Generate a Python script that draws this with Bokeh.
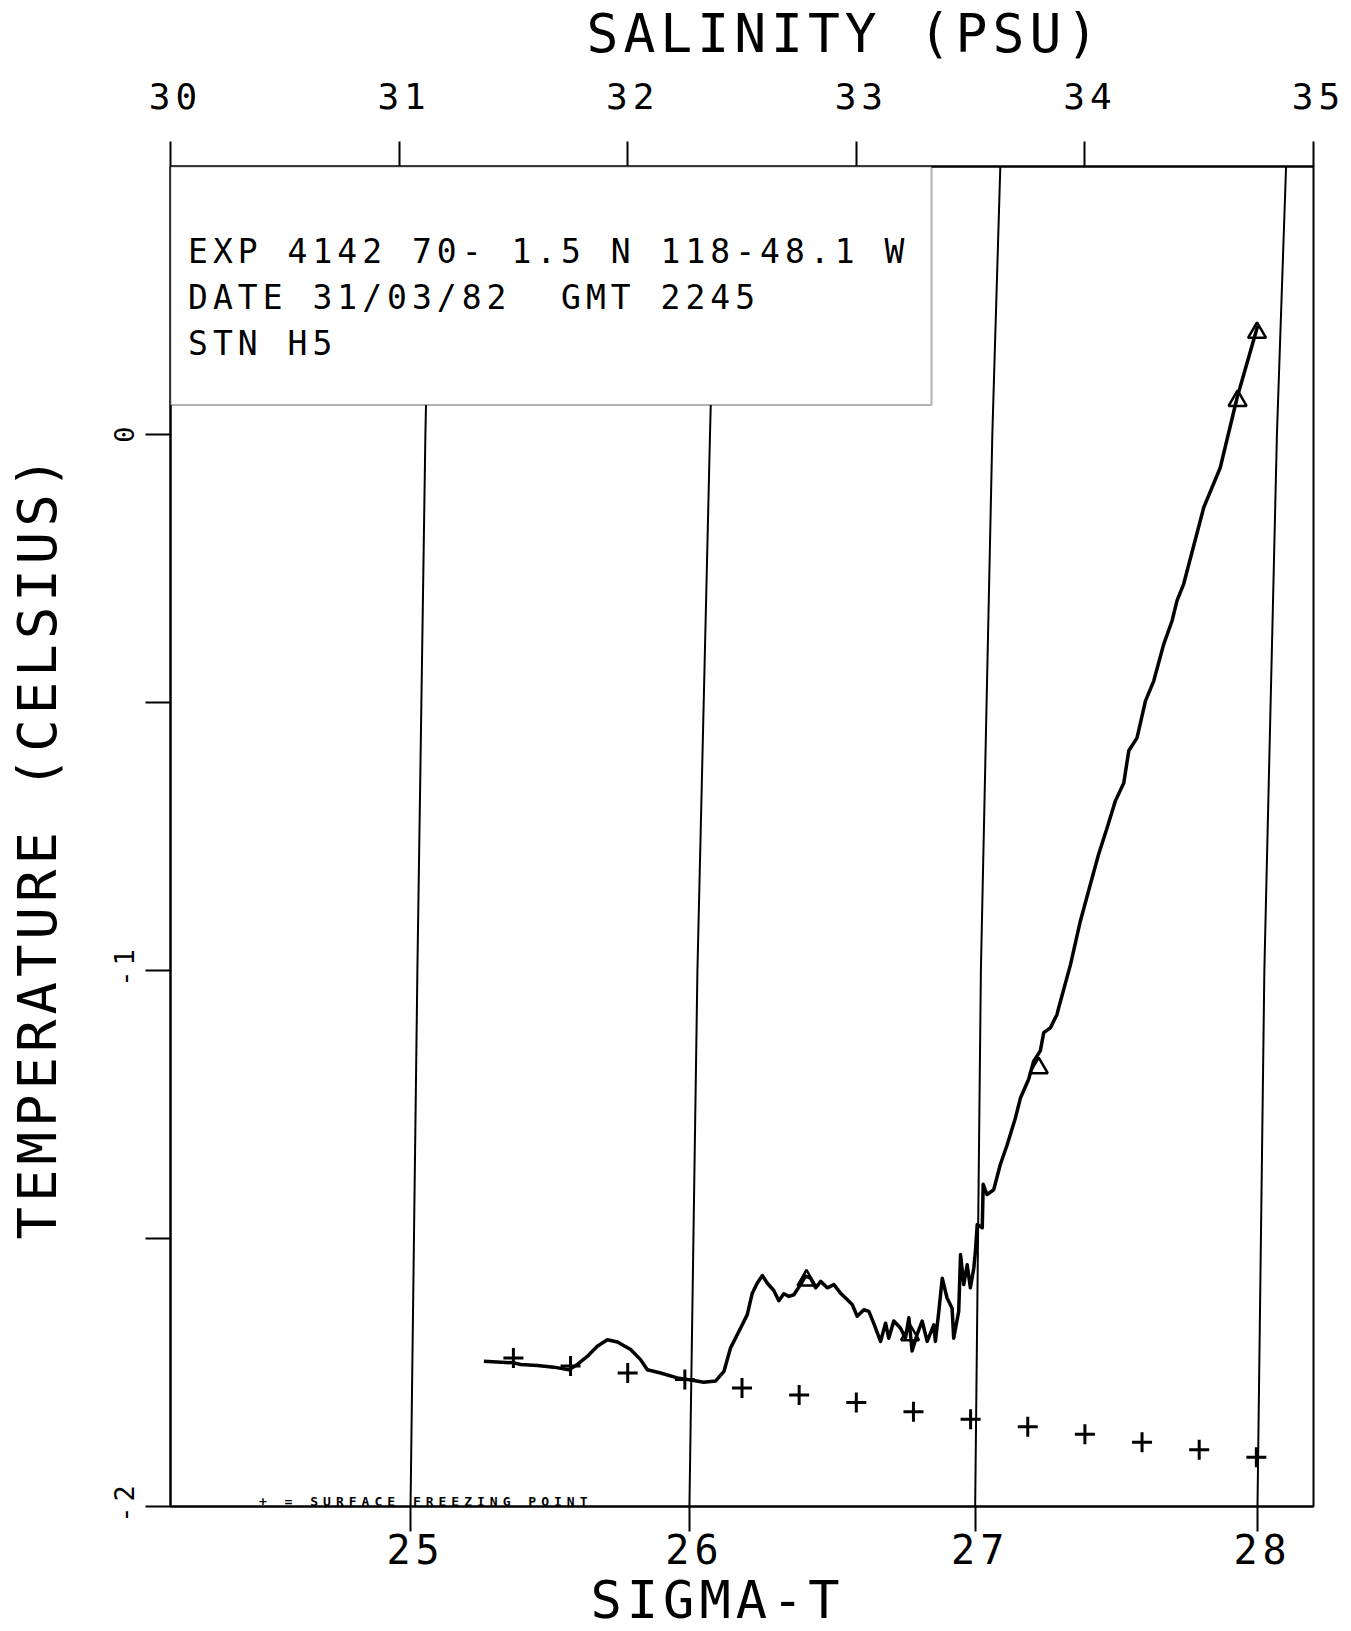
from bokeh.plotting import figure
from bokeh.models import (Range1d, LinearAxis, FixedTicker, BoxAnnotation, Label,
                          Title, InlineStyleSheet)
from bokeh.embed import file_html
from bokeh.resources import INLINE

FONT = "DejaVu Sans Mono"

# ---- axes -------------------------------------------------------------
sal_ticks = [30, 31, 32, 33, 34, 35]
temp_ticks = [-2, -1.5, -1, -0.5, 0]
temp_tick_labels = {-2: "-2", -1.5: "", -1: "-1", -0.5: "", 0: "0"}

# ---- sigma-t isopycnals (salinity at given temperatures) --------------
sigma_levels = [25, 26, 27, 28]
iso_temp = [-2.0, -1.0, 0.0, 0.5]
iso_sal_25 = [31.05, 31.08, 31.115, 31.14]
iso_sal_26 = [32.27, 32.305, 32.36, 32.39]
iso_sal_27 = [33.52, 33.545, 33.595, 33.63]
iso_sal_28 = [34.755, 34.785, 34.84, 34.88]
iso_sals = [iso_sal_25, iso_sal_26, iso_sal_27, iso_sal_28]

# ---- CTD profile (salinity, temperature) ------------------------------
profile_sal = [31.371, 31.502, 31.532, 31.605, 31.677, 31.743, 31.780, 31.823, 31.867, 31.911,
               31.955, 32.013, 32.056, 32.086, 32.144, 32.217, 32.289, 32.333, 32.384, 32.421,
               32.450, 32.494, 32.523, 32.545, 32.567, 32.589, 32.610, 32.639, 32.661, 32.683,
               32.705, 32.727, 32.756, 32.778, 32.800, 32.822, 32.844, 32.873, 32.902, 32.931,
               32.960, 32.982, 33.004, 33.033, 33.055, 33.076, 33.106, 33.128, 33.142, 33.164,
               33.193, 33.215, 33.230, 33.244, 33.266, 33.288, 33.310, 33.339, 33.346, 33.361,
               33.376, 33.397, 33.419, 33.426, 33.448, 33.456, 33.470, 33.485, 33.499, 33.514,
               33.521, 33.529, 33.551, 33.555, 33.572, 33.601, 33.630, 33.660, 33.696, 33.718,
               33.754, 33.776, 33.805, 33.820, 33.849, 33.878, 33.885, 33.937, 33.980, 34.024,
               34.060, 34.097, 34.133, 34.170, 34.192, 34.228, 34.265, 34.301, 34.345, 34.381,
               34.403, 34.432, 34.520, 34.592, 34.666, 34.756]
profile_temp = [-1.729, -1.732, -1.735, -1.737, -1.740, -1.745, -1.735, -1.720, -1.701, -1.689,
                -1.693, -1.707, -1.726, -1.745, -1.751, -1.760, -1.765, -1.768, -1.766, -1.748,
                -1.704, -1.667, -1.642, -1.602, -1.583, -1.569, -1.583, -1.597, -1.616, -1.603,
                -1.608, -1.605, -1.586, -1.570, -1.574, -1.592, -1.580, -1.592, -1.586, -1.602,
                -1.614, -1.623, -1.645, -1.633, -1.636, -1.658, -1.692, -1.658, -1.686, -1.654,
                -1.667, -1.686, -1.648, -1.710, -1.679, -1.654, -1.692, -1.661, -1.692, -1.636,
                -1.574, -1.611, -1.630, -1.686, -1.636, -1.530, -1.586, -1.549, -1.592, -1.555,
                -1.524, -1.474, -1.480, -1.399, -1.418, -1.409, -1.362, -1.325, -1.275, -1.238,
                -1.203, -1.169, -1.150, -1.116, -1.107, -1.082, -1.070, -0.989, -0.908, -0.839,
                -0.783, -0.734, -0.684, -0.650, -0.590, -0.566, -0.497, -0.460, -0.391, -0.348,
                -0.310, -0.279, -0.136, -0.062, 0.069, 0.203]

# ---- bottle samples (triangles) ---------------------------------------
bottle_sal = [32.782, 33.235, 33.798, 34.668, 34.753]
bottle_temp = [-1.578, -1.680, -1.182, 0.063, 0.190]

# ---- surface freezing point (+) ---------------------------------------
freeze_sal = [31.50, 31.75, 32.00, 32.25, 32.50, 32.75, 33.00, 33.25, 33.50, 33.75,
              34.00, 34.25, 34.50, 34.75]
freeze_temp = [-1.723, -1.738, -1.751, -1.763, -1.779, -1.792, -1.806, -1.823, -1.837, -1.851,
               -1.865, -1.880, -1.894, -1.908]

# ---- texts -------------------------------------------------------------
header_lines = ["EXP 4142 70- 1.5 N 118-48.1 W",
                "DATE 31/03/82 \u00a0GMT 2245",
                "STN H5"]
legend_text = "+ = SURFACE FREEZING POINT"

# =======================================================================
p = figure(frame_width=1143, frame_height=1340,
           x_range=Range1d(30, 35), y_range=Range1d(-2, 0.5),
           output_backend="svg", toolbar_location=None,
           x_axis_location="above", y_axis_location="left",
           min_border_left=212, min_border_top=192,
           min_border_right=36, min_border_bottom=125,
           background_fill_color="white", border_fill_color="white")
p.stylesheets = [InlineStyleSheet(css=(
    ":host { letter-spacing: 5px; margin-left: -42px; margin-top: -26px; }"))]
p.grid.visible = False
p.outline_line_color = "black"
p.outline_line_width = 2

def style_axis(ax, size):
    ax.major_tick_out = 25
    ax.major_tick_in = 0
    ax.minor_tick_out = 0
    ax.minor_tick_in = 0
    ax.axis_line_color = "black"
    ax.axis_line_width = 2
    ax.major_tick_line_color = "black"
    ax.major_tick_line_width = 2
    ax.major_label_text_font = FONT
    ax.major_label_text_font_size = size
    ax.major_label_text_color = "black"

top = p.xaxis[0]
top.ticker = FixedTicker(ticks=sal_ticks)
style_axis(top, "36px")
top.major_label_standoff = 33

left = p.yaxis[0]
left.ticker = FixedTicker(ticks=temp_ticks)
left.major_label_overrides = temp_tick_labels
left.major_label_orientation = "vertical"
style_axis(left, "27px")
left.major_label_standoff = 12

sigma_ticks = [s[0] for s in iso_sals]
bottom = LinearAxis(ticker=FixedTicker(ticks=sigma_ticks),
                    major_label_overrides={s: str(g) for s, g in zip(sigma_ticks, sigma_levels)})
style_axis(bottom, "40px")
bottom.major_label_standoff = 2
p.add_layout(bottom, "below")

p.title.text = "SALINITY (PSU)"
p.title.align = "left"
p.title.offset = 416
p.title.text_font = FONT
p.title.text_font_size = "53px"
p.title.text_font_style = "normal"
p.title.text_color = "black"
p.title.standoff = 31

p.add_layout(Title(text="TEMPERATURE (CELSIUS)", align="left", offset=267, text_font=FONT,
                   text_font_size="54px", text_font_style="normal",
                   text_color="black", standoff=84), "left")

p.add_layout(Title(text="SIGMA-T", align="left", offset=420, text_font=FONT,
                   text_font_size="52px", text_font_style="normal",
                   text_color="black", standoff=3), "below")

# isopycnals
for sal in iso_sals:
    p.line(sal, iso_temp, line_color="black", line_width=2)

# profile
p.line(profile_sal, profile_temp, line_color="black", line_width=3.5, line_join="round")
p.scatter(bottle_sal, bottle_temp, marker="triangle", size=18, fill_alpha=0,
          line_color="black", line_width=2.5)
p.scatter(freeze_sal, freeze_temp, marker="cross", size=20, line_color="black", line_width=3)

# header box
p.add_layout(BoxAnnotation(left=30, right=33.329, top=0.5, bottom=0.055,
                           fill_color="white", fill_alpha=1.0,
                           line_color="black", line_width=2))
for txt, yy in zip(header_lines, [0.342, 0.2555, 0.1705]):
    p.add_layout(Label(x=30.077, y=yy, text=txt, text_font=FONT, text_font_size="33px",
                       text_baseline="alphabetic", text_color="black"))

p.add_layout(Label(x=30.387, y=-1.99, text=legend_text, text_font=FONT,
                   text_font_size="13px", text_font_style="bold",
                   text_baseline="alphabetic", text_color="black"))

open("out.html", "w").write(file_html(p, INLINE))
